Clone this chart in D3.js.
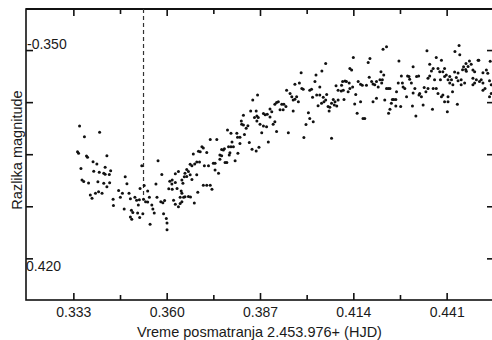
<!DOCTYPE html>
<html><head><meta charset="utf-8">
<script src="https://cdn.jsdelivr.net/npm/d3@7"></script>
<style>
html,body{margin:0;padding:0;background:#fff;}
svg{display:block;font-family:"Liberation Sans",Arial,sans-serif;}
</style>
</head><body>
<svg id="c" width="492" height="340"></svg>
<script>
const obsTime=[
0.3342,0.3345,0.3348,0.3352,0.3355,0.3360,0.3362,0.3368,0.3371,0.3374,
0.3379,0.3384,0.3387,0.3389,0.3405,0.3394,0.3398,0.3401,0.3403,0.3406,
0.3413,0.3418,0.3418,0.3422,0.3422,0.3427,0.3427,0.3434,0.3438,0.3435,
0.3445,0.3446,0.3461,0.3472,0.3466,0.3477,0.3480,0.3485,0.3491,0.3495,
0.3498,0.3502,0.3495,0.3499,0.3508,0.3513,0.3521,0.3518,0.3516,0.3522,
0.3523,0.3528,0.3531,0.3535,0.3545,0.3533,0.3539,0.3545,0.3550,0.3552,
0.3557,0.3560,0.3564,0.3572,0.3569,0.3575,0.3586,0.3583,0.3589,0.3594,
0.3591,0.3599,0.3601,0.3601,0.3606,0.3616,0.3609,0.3615,0.3616,0.3625,
0.3625,0.3634,0.3620,0.3625,0.3634,0.3639,0.3644,0.3630,0.3639,0.3644,
0.3649,0.3653,0.3663,0.3669,0.3642,0.3644,0.3647,0.3651,0.3653,0.3658,
0.3663,0.3658,0.3668,0.3668,0.3673,0.3673,0.3677,0.3681,0.3687,0.3692,
0.3695,0.3687,0.3690,0.3680,0.3697,0.3702,0.3706,0.3716,0.3706,0.3716,
0.3726,0.3731,0.3709,0.3721,0.3726,0.3745,0.3735,0.3740,0.3740,0.3750,
0.3754,0.3754,0.3759,0.3759,0.3764,0.3767,0.3769,0.3774,0.3776,0.3779,
0.3783,0.3781,0.3786,0.3789,0.3786,0.3793,0.3798,0.3803,0.3805,0.3812,
0.3806,0.3812,0.3816,0.3822,0.3817,0.3822,0.3825,0.3830,0.3835,0.3839,
0.3843,0.3849,0.3847,0.3854,0.3861,0.3859,0.3863,0.3859,0.3867,0.3865,
0.3861,0.3870,0.3875,0.3880,0.3889,0.3880,0.3885,0.3891,0.3899,0.3899,
0.3904,0.3894,0.3908,0.3913,0.3918,0.3913,0.3918,0.3923,0.3933,0.3939,
0.3945,0.3928,0.3937,0.3947,0.3957,0.3952,0.3962,0.3966,0.3971,0.3976,
0.3981,0.3966,0.3971,0.3984,0.3991,0.3995,0.3989,0.3997,0.4003,0.4010,
0.4014,0.4024,0.4014,0.4019,0.4029,0.4043,0.4022,0.4034,0.4043,0.4053,
0.4060,0.4055,0.4063,0.4048,0.4032,0.4049,0.4060,0.4038,0.4067,0.4070,
0.4072,0.4077,0.4082,0.4087,0.4085,0.4092,0.4077,0.4096,0.4113,0.4090,
0.4096,0.4105,0.4111,0.4125,0.4106,0.4109,0.4116,0.4120,0.4128,0.4130,
0.4138,0.4130,0.4135,0.4140,0.4144,0.4147,0.4151,0.4154,0.4161,0.4166,
0.4178,0.4161,0.4168,0.4173,0.4183,0.4188,0.4186,0.4193,0.4197,0.4197,
0.4207,0.4202,0.4207,0.4212,0.4217,0.4224,0.4222,0.4220,0.4228,0.4226,
0.4236,0.4231,0.4236,0.4241,0.4246,0.4242,0.4246,0.4250,0.4253,0.4257,
0.4263,0.4277,0.4265,0.4263,0.4270,0.4284,0.4289,0.4294,0.4272,0.4279,
0.4282,0.4297,0.4301,0.4303,0.4308,0.4311,0.4313,0.4313,0.4318,0.4321,
0.4323,0.4329,0.4330,0.4332,0.4337,0.4342,0.4345,0.4350,0.4353,0.4356,
0.4361,0.4356,0.4371,0.4361,0.4366,0.4371,0.4385,0.4369,0.4375,0.4392,
0.4380,0.4395,0.4380,0.4385,0.4390,0.4399,0.4395,0.4399,0.4404,0.4414,
0.4404,0.4404,0.4409,0.4412,0.4414,0.4419,0.4424,0.4419,
0.4414,0.4427,0.4428,0.4433,0.4443,0.4434,0.4446,0.4448,0.4438,0.4443,0.4441,
0.4452,0.4462,0.4452,0.4456,0.4459,0.4466,0.4476,0.4481,0.4472,0.4465,
0.4467,0.4486,0.4491,0.4501,0.4503,0.4486,0.4496,0.4505,0.4510,0.4515,
0.4491,0.4486,0.4515,0.4515,0.4521,0.4525,0.4529,0.4536,0.4534,0.4539,0.4534,0.4539
];
const obsMag=[
-0.3842,-0.3847,-0.3755,-0.3898,-0.3937,-0.3942,-0.3791,-0.3856,-0.3860,-0.3947,
-0.3987,-0.3998,-0.3875,-0.3907,-0.3911,-0.3981,-0.3883,-0.3943,-0.3976,-0.3776,
-0.3981,-0.3914,-0.3948,-0.3894,-0.3917,-0.3855,-0.3959,-0.3918,-0.3906,-0.3946,
-0.4001,-0.4022,-0.3972,-0.3981,-0.3995,-0.4034,-0.3926,-0.3949,-0.3981,-0.4000,
-0.4038,-0.4046,-0.4061,-0.4069,-0.3995,-0.4005,-0.4003,-0.4021,-0.4048,-0.4063,
-0.3965,-0.3889,-0.4050,-0.3955,-0.3974,-0.4001,-0.4010,-0.4011,-0.3995,-0.4085,
-0.4021,-0.4034,-0.4048,-0.3995,-0.3950,-0.3872,-0.3918,-0.4010,-0.4013,-0.4006,
-0.4050,-0.4066,-0.4081,-0.4104,-0.3966,-0.3968,-0.3941,-0.3950,-0.3937,-0.3945,
-0.3916,-0.3908,-0.4005,-0.4018,-0.4027,-0.4016,-0.4010,-0.3965,-0.3995,-0.3981,
-0.3995,-0.3993,-0.3992,-0.3994,-0.3974,-0.3937,-0.3948,-0.3926,-0.3914,-0.3901,
-0.3908,-0.3925,-0.3884,-0.3919,-0.3935,-0.3889,-0.3849,-0.3883,-0.3876,-0.3840,
-0.3876,-0.3919,-0.3978,-0.4014,-0.3842,-0.3825,-0.3829,-0.3844,-0.3954,-0.3954,
-0.3954,-0.3968,-0.3889,-0.3889,-0.3801,-0.3801,-0.3880,-0.3880,-0.3903,-0.3914,
-0.3867,-0.3853,-0.3855,-0.3834,-0.3836,-0.3832,-0.3878,-0.3878,-0.3769,-0.3825,
-0.3845,-0.3853,-0.3780,-0.3809,-0.3825,-0.3825,-0.3872,-0.3780,-0.3793,-0.3793,
-0.3847,-0.3814,-0.3738,-0.3719,-0.3749,-0.3752,-0.3784,-0.3763,-0.3754,-0.3811,
-0.3705,-0.3668,-0.3833,-0.3727,-0.3722,-0.3705,-0.3651,-0.3839,-0.3827,-0.3727,
-0.3738,-0.3749,-0.3778,-0.3755,-0.3758,-0.3713,-0.3717,-0.3716,-0.3725,-0.3698,
-0.3707,-0.3809,-0.3749,-0.3741,-0.3774,-0.3682,-0.3676,-0.3674,-0.3682,-0.3682,
-0.3690,-0.3701,-0.3701,-0.3635,-0.3646,-0.3778,-0.3657,-0.3668,-0.3665,-0.3657,
-0.3674,-0.3705,-0.3615,-0.3611,-0.3629,-0.3632,-0.3576,-0.3794,-0.3750,-0.3711,
-0.3730,-0.3741,-0.3635,-0.3632,-0.3606,-0.3624,-0.3659,-0.3651,-0.3651,-0.3659,
-0.3668,-0.3674,-0.3649,-0.3679,-0.3584,-0.3570,-0.3545,-0.3687,-0.3690,-0.3705,
-0.3692,-0.3679,-0.3666,-0.3674,-0.3685,-0.3688,-0.3796,-0.3668,-0.3666,-0.3620,
-0.3635,-0.3638,-0.3635,-0.3640,-0.3618,-0.3606,-0.3604,-0.3606,-0.3611,-0.3629,
-0.3624,-0.3562,-0.3567,-0.3525,-0.3681,-0.3649,-0.3712,-0.3606,-0.3615,-0.3618,
-0.3618,-0.3674,-0.3730,-0.3730,-0.3542,-0.3528,-0.3591,-0.3606,-0.3614,-0.3674,
-0.3662,-0.3617,-0.3606,-0.3624,-0.3600,-0.3600,-0.3611,-0.3573,-0.3584,-0.3497,
-0.3489,-0.3668,-0.3629,-0.3629,-0.3629,-0.3712,-0.3699,-0.3679,-0.3666,-0.3666,
-0.3688,-0.3690,-0.3640,-0.3666,-0.3611,-0.3624,-0.3629,-0.3657,-0.3537,-0.3587,
-0.3611,-0.3587,-0.3589,-0.3598,-0.3611,-0.3688,-0.3556,-0.3644,-0.3629,-0.3722,
-0.3589,-0.3587,-0.3651,-0.3646,-0.3657,-0.3685,-0.3626,-0.3640,-0.3502,-0.3595,
-0.3587,-0.3629,-0.3629,-0.3548,-0.3570,-0.3562,-0.3562,-0.3699,-0.3600,-0.3600,
-0.3525,-0.3534,-0.3629,-0.3646,-0.3573,-0.3573,-0.3657,-0.3651,-0.3674,-0.3674,
-0.3562,-0.3589,-0.3584,-0.3707,-0.3600,-0.3611,-0.3600,-0.3589,
-0.3657,-0.3640,-0.3617,-0.3574,-0.3577,-0.3505,-0.3485,-0.3516,-0.3592,-0.3603,-0.3682,
-0.3600,-0.3611,-0.3617,-0.3566,-0.3556,-0.3545,-0.3537,-0.3548,-0.3555,-0.3565,
-0.3571,-0.3567,-0.3573,-0.3534,-0.3534,-0.3595,-0.3600,-0.3606,-0.3600,-0.3611,
-0.3611,-0.3617,-0.3576,-0.3635,-0.3629,-0.3567,-0.3578,-0.3538,-0.3603,-0.3617,-0.3657,-0.3646
];

const xTicksMajor=[0.333,0.360,0.387,0.414,0.441];
const xTicksMinor=[0.3465,0.3735,0.4005,0.4275];
const xTickLabels=["0.333","0.360","0.387","0.414","0.441"];
const yTicks=[-0.350,-0.3675,-0.385,-0.4025,-0.420];
const yTickLabels=["-0.350","","","","0.420"];
const xDomain=[0.3193,0.4547];
const yDomain=[-0.3362,-0.4340];
const markerTime=0.3533;
const markerMagEnd=-0.4005;
const xTitle="Vreme posmatranja 2.453.976+ (HJD)";
const yTitle="Razlika magnitude";

const L=26,R=494,T=9,B=300;
const ink="#111";
const svg=d3.select("#c");
svg.append("rect").attr("width",492).attr("height",340).attr("fill","#fff");

const x=d3.scaleLinear().domain(xDomain).range([L,R]);
const y=d3.scaleLinear().domain(yDomain).range([T,B]);

function styleAxis(g){
  g.select(".domain").remove();
  g.selectAll(".tick line").attr("stroke",ink).attr("stroke-width",1.6);
  g.selectAll(".tick text").attr("fill","#1a1a1a").attr("font-size",14)
   .attr("font-family","'Liberation Sans',Arial,sans-serif");
}

svg.append("g").attr("transform",`translate(0,${B})`)
  .call(d3.axisBottom(x).tickValues(xTicksMajor).tickSize(-7).tickPadding(7)
    .tickFormat((d,i)=>xTickLabels[i])).call(styleAxis);
svg.append("g").attr("transform",`translate(0,${B})`)
  .call(d3.axisBottom(x).tickValues(xTicksMinor).tickSize(-5).tickFormat("")).call(styleAxis);
svg.append("g").attr("transform",`translate(0,${T})`)
  .call(d3.axisTop(x).tickValues(xTicksMajor).tickSize(-7).tickFormat("")).call(styleAxis);
svg.append("g").attr("transform",`translate(0,${T})`)
  .call(d3.axisTop(x).tickValues(xTicksMinor).tickSize(-5).tickFormat("")).call(styleAxis);
svg.append("g").attr("transform",`translate(${L},0)`)
  .call(d3.axisLeft(y).tickValues(yTicks).tickSize(-7).tickFormat("")).call(styleAxis);
svg.append("g").attr("transform",`translate(${R},0)`)
  .call(d3.axisRight(y).tickValues(yTicks).tickSize(-7).tickFormat("")).call(styleAxis);

yTicks.forEach((v,i)=>{
  const t=yTickLabels[i]; if(!t) return;
  const above = i===0;
  svg.append("text").attr("x", above?27:26).attr("y", above? y(v)-1 : y(v)+13)
    .attr("font-size",14).attr("fill","#1a1a1a").text(t);
});

svg.append("rect").attr("x",L).attr("y",T).attr("width",R-L).attr("height",B-T)
  .attr("fill","none").attr("stroke",ink).attr("stroke-width",1.6);
svg.append("line").attr("x1",L).attr("x2",R).attr("y1",T).attr("y2",T)
  .attr("stroke",ink).attr("stroke-width",2.2);

svg.append("line").attr("x1",x(markerTime)).attr("x2",x(markerTime))
  .attr("y1",T).attr("y2",y(markerMagEnd))
  .attr("stroke","#333").attr("stroke-width",1.2).attr("stroke-dasharray","4,3");

const n=Math.min(obsTime.length,obsMag.length);
svg.append("g").selectAll("circle").data(d3.range(n)).join("circle")
  .attr("cx",i=>x(obsTime[i])).attr("cy",i=>y(obsMag[i])).attr("r",1.5).attr("fill",ink);

svg.append("text").attr("x",259.5).attr("y",337).attr("text-anchor","middle")
  .attr("font-size",14.5).attr("fill","#1a1a1a").text(xTitle);
svg.append("text").attr("transform","translate(21.5,150) rotate(-90)")
  .attr("text-anchor","middle").attr("font-size",14.5).attr("fill","#1a1a1a").text(yTitle);
</script>
</body></html>
